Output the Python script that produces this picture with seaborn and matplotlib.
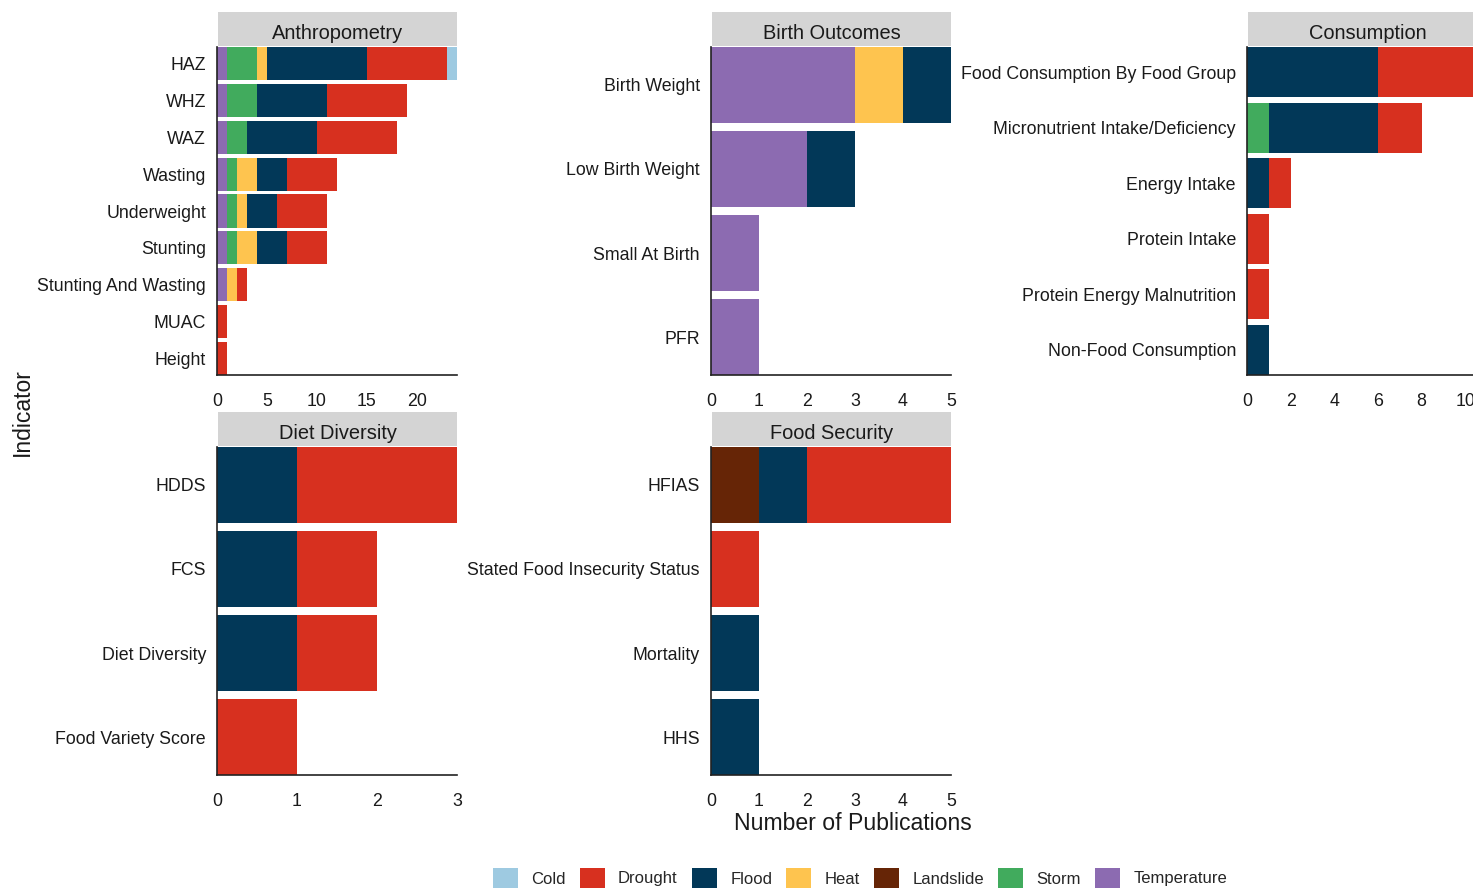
import matplotlib
matplotlib.use("Agg")
import matplotlib.pyplot as plt
from matplotlib.patches import Patch
import pandas as pd
import seaborn as sns

# hazard colours (stacking goes reverse alphabetical, left to right)
hazards = ["Cold", "Drought", "Flood", "Heat", "Landslide", "Storm", "Temperature"]
colours = ["#9ecae1", "#d7301f", "#023858", "#fec44f", "#662506", "#41ab5d", "#8c6bb1"]

# Anthropometry
anthro_ind = ["HAZ", "WHZ", "WAZ", "Wasting", "Underweight", "Stunting",
              "Stunting And Wasting", "MUAC", "Height"]
anthro = {"Temperature": [1, 1, 1, 1, 1, 1, 1, 0, 0],
          "Storm":       [3, 3, 2, 1, 1, 1, 0, 0, 0],
          "Heat":        [1, 0, 0, 2, 1, 2, 1, 0, 0],
          "Flood":       [10, 7, 7, 3, 3, 3, 0, 0, 0],
          "Drought":     [8, 8, 8, 5, 5, 4, 1, 1, 1],
          "Cold":        [1, 0, 0, 0, 0, 0, 0, 0, 0]}

# Birth Outcomes
birth_ind = ["Birth Weight", "Low Birth Weight", "Small At Birth", "PFR"]
birth = {"Temperature": [3, 2, 1, 1],
         "Heat":        [1, 0, 0, 0],
         "Flood":       [1, 1, 0, 0]}

# Consumption
cons_ind = ["Food Consumption By Food Group", "Micronutrient Intake/Deficiency",
            "Energy Intake", "Protein Intake", "Protein Energy Malnutrition",
            "Non-Food Consumption"]
cons = {"Storm":   [0, 1, 0, 0, 0, 0],
        "Flood":   [6, 5, 1, 0, 0, 1],
        "Drought": [5, 2, 1, 1, 1, 0]}

# Diet Diversity
diet_ind = ["HDDS", "FCS", "Diet Diversity", "Food Variety Score"]
diet = {"Flood":   [1, 1, 1, 0],
        "Drought": [2, 1, 1, 1]}

# Food Security
fsec_ind = ["HFIAS", "Stated Food Insecurity Status", "Mortality", "HHS"]
fsec = {"Landslide": [1, 0, 0, 0],
        "Flood":     [1, 0, 1, 1],
        "Drought":   [3, 1, 0, 0]}

panels = [("Anthropometry", anthro_ind, anthro, 24, [0, 5, 10, 15, 20]),
          ("Birth Outcomes", birth_ind, birth, 5, [0, 1, 2, 3, 4, 5]),
          ("Consumption", cons_ind, cons, 11, [0, 2, 4, 6, 8, 10]),
          ("Diet Diversity", diet_ind, diet, 3, [0, 1, 2, 3]),
          ("Food Security", fsec_ind, fsec, 5, [0, 1, 2, 3, 4, 5])]

# panel boxes in pixels: left, top, width, height
W, H = 1473, 890
boxes = [(217, 47, 240, 328), (711, 47, 240, 328), (1247, 47, 240, 328),
         (217, 447, 240, 328), (711, 447, 240, 328)]

sns.set_style("white")
plt.rcParams["font.family"] = ["Liberation Sans", "DejaVu Sans"]
fig = plt.figure(figsize=(W / 100, H / 100), dpi=100)
cmap = dict(zip(hazards, colours))
order = sorted(hazards, reverse=True)

for (title, inds, counts, xmax, ticks), (l, t, w, h) in zip(panels, boxes):
    ax = fig.add_axes([l / W, 1 - (t + h) / H, w / W, h / H])
    df = pd.DataFrame(counts, index=inds)
    cols = [c for c in order if c in df.columns]
    cum = df[cols].cumsum(axis=1)
    # draw outermost first so inner segments sit on top
    for c in reversed(cols):
        d = pd.DataFrame({"Indicator": inds, "n": cum[c].values})
        d = d[df[c].values > 0]
        sns.barplot(data=d, x="n", y="Indicator", order=inds, color=cmap[c],
                    width=0.9, linewidth=0, saturation=1, ax=ax)
    ax.set_xlim(0, xmax)
    ax.set_ylim(len(inds) - 0.55, -0.45)
    ax.set_xticks(ticks)
    ax.set_xlabel("")
    ax.set_ylabel("")
    ax.tick_params(axis="both", length=0, labelsize=12.8, colors="#1a1a1a")
    ax.tick_params(axis="x", pad=13)
    ax.tick_params(axis="y", pad=8)
    for s in ["top", "right"]:
        ax.spines[s].set_visible(False)
    for s in ["left", "bottom"]:
        ax.spines[s].set_color("#222222")
        ax.spines[s].set_linewidth(1.2)
    # strip
    sax = fig.add_axes([(l + 1) / W, 1 - (t - 1) / H, (w - 1) / W, 34 / H])
    sax.set_facecolor("#d4d4d4")
    sax.set_xticks([])
    sax.set_yticks([])
    for s in sax.spines.values():
        s.set_visible(False)
    sax.text(0.5, 0.38, title, ha="center", va="center", fontsize=14.4,
             color="#1a1a1a", transform=sax.transAxes)

fig.text(22 / W, 1 - 412 / H, "Indicator", rotation=90, ha="center",
         va="center", fontsize=16.5, color="#1a1a1a")
fig.text(853 / W, 1 - 823 / H, "Number of Publications", ha="center",
         va="center", fontsize=16.6, color="#1a1a1a")

handles = [Patch(facecolor=cmap[hz], edgecolor="none", label=hz) for hz in hazards]
fig.legend(handles=handles, loc="center", bbox_to_anchor=(860 / W, 1 - 878 / H),
           ncol=7, frameon=False, fontsize=12, handlelength=1.5,
           handleheight=1.5, handletextpad=0.8, columnspacing=0.85)

fig.savefig("out.png", dpi=100)
